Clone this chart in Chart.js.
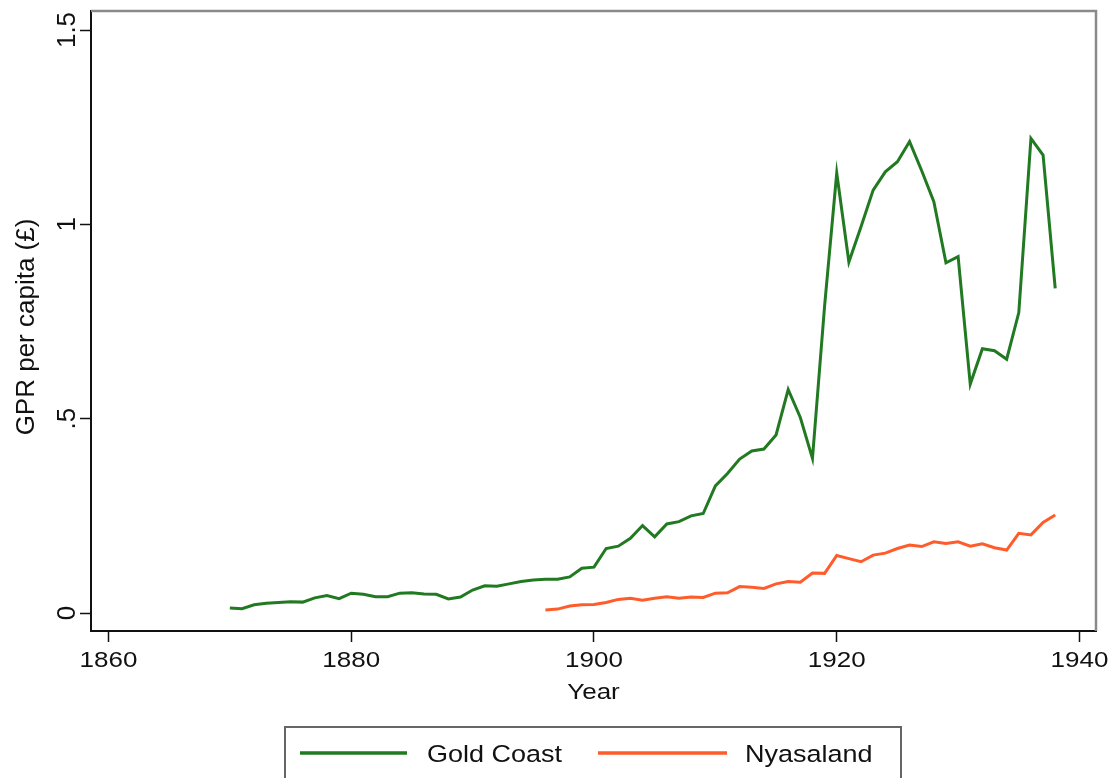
<!DOCTYPE html>
<html>
<head>
<meta charset="utf-8">
<title>GPR per capita</title>
<script src="https://cdn.jsdelivr.net/npm/chart.js@4.4.1/dist/chart.umd.min.js"></script>
<style>
  html, body { margin: 0; padding: 0; background: #fff; }
  #wrap { width: 1113px; height: 778px; position: relative; }
</style>
</head>
<body>
<div id="wrap"><canvas id="gprChart"></canvas></div>
<script>
// Datos
const goldYears = [1870, 1871, 1872, 1873, 1874, 1875, 1876, 1877, 1878, 1879,
    1880, 1881, 1882, 1883, 1884, 1885, 1886, 1887, 1888, 1889,
    1890, 1891, 1892, 1893, 1894, 1895, 1896, 1897, 1898, 1899,
    1900, 1901, 1902, 1903, 1904, 1905, 1906, 1907, 1908, 1909,
    1910, 1911, 1912, 1913, 1914, 1915, 1916, 1917, 1918, 1919,
    1920, 1921, 1922, 1923, 1924, 1925, 1926, 1927, 1928, 1929,
    1930, 1931, 1932, 1933, 1934, 1935, 1936, 1937, 1938];
const goldValues = [0.013, 0.011, 0.021, 0.025, 0.027, 0.029, 0.028, 0.039, 0.045, 0.037,
    0.051, 0.048, 0.042, 0.042, 0.051, 0.052, 0.049, 0.048, 0.036, 0.041,
    0.059, 0.070, 0.069, 0.075, 0.081, 0.085, 0.087, 0.087, 0.093, 0.115,
    0.118, 0.166, 0.172, 0.192, 0.225, 0.196, 0.229, 0.235, 0.250, 0.256,
    0.327, 0.359, 0.396, 0.417, 0.422, 0.458, 0.575, 0.503, 0.398, 0.790,
    1.132, 0.903, 0.994, 1.088, 1.135, 1.161, 1.213, 1.138, 1.058, 0.901,
    0.917, 0.589, 0.680, 0.675, 0.653, 0.773, 1.221, 1.178, 0.835];

const nyasaYears = [1896, 1897, 1898, 1899,
    1900, 1901, 1902, 1903, 1904, 1905, 1906, 1907, 1908, 1909,
    1910, 1911, 1912, 1913, 1914, 1915, 1916, 1917, 1918, 1919,
    1920, 1921, 1922, 1923, 1924, 1925, 1926, 1927, 1928, 1929,
    1930, 1931, 1932, 1933, 1934, 1935, 1936, 1937, 1938];
const nyasaValues = [0.008, 0.010, 0.018, 0.021,
    0.022, 0.027, 0.035, 0.038, 0.033, 0.038, 0.042, 0.038, 0.041, 0.040,
    0.051, 0.052, 0.068, 0.066, 0.063, 0.075, 0.081, 0.079, 0.103, 0.102,
    0.148, 0.140, 0.132, 0.149, 0.154, 0.166, 0.175, 0.171, 0.183, 0.179,
    0.183, 0.172, 0.178, 0.168, 0.162, 0.205, 0.201, 0.233, 0.252];

const xTicks = [1860, 1880, 1900, 1920, 1940];
const yTicks = [0, 0.5, 1, 1.5];
const yTickLabels = ['0', '.5', '1', '1.5'];

const seriesNames = ['Gold Coast', 'Nyasaland'];
const seriesColors = ['#217a22', '#ff5c2b'];

const FONT = '"Liberation Sans", Arial, Helvetica, sans-serif';
const TEXT_COLOR = '#111';

function toPoints(years, values) {
    return years.map((y, i) => ({ x: y, y: values[i] }));
}

// Texto horizontal algo aplastado, como en el original
function drawFlatText(ctx, text, x, baseline, size, squash, align) {
    ctx.save();
    ctx.translate(x, baseline);
    ctx.scale(1, squash);
    ctx.font = size + 'px ' + FONT;
    ctx.textAlign = align || 'center';
    ctx.textBaseline = 'alphabetic';
    ctx.fillStyle = TEXT_COLOR;
    ctx.fillText(text, 0, 0);
    ctx.restore();
}

function drawVerticalText(ctx, text, x, y, size) {
    ctx.save();
    ctx.translate(x, y);
    ctx.rotate(-Math.PI / 2);
    ctx.font = size + 'px ' + FONT;
    ctx.textAlign = 'center';
    ctx.textBaseline = 'middle';
    ctx.fillStyle = TEXT_COLOR;
    ctx.fillText(text, 0, 0);
    ctx.restore();
}

const stataDecor = {
    id: 'stataDecor',
    afterDraw(chart) {
        const ctx = chart.ctx;
        const area = chart.chartArea;
        const xs = chart.scales.x;
        const ys = chart.scales.y;

        // marco superior y derecho
        ctx.save();
        ctx.strokeStyle = '#8a8a8a';
        ctx.lineWidth = 2.5;
        ctx.beginPath();
        ctx.moveTo(area.left, area.top);
        ctx.lineTo(area.right, area.top);
        ctx.lineTo(area.right, area.bottom);
        ctx.stroke();
        ctx.restore();

        // etiquetas del eje Y
        ys.ticks.forEach((t, i) => {
            drawVerticalText(ctx, yTickLabels[yTicks.indexOf(t.value)], 68, ys.getPixelForValue(t.value), 26);
        });
        drawVerticalText(ctx, 'GPR per capita (£)', 27, 327, 26);

        // etiquetas del eje X
        xs.ticks.forEach(t => {
            drawFlatText(ctx, String(t.value), xs.getPixelForValue(t.value), 667, 26, 0.83);
        });
        drawFlatText(ctx, 'Year', (area.left + area.right) / 2 + 0, 699, 26, 0.83);

        // leyenda
        ctx.save();
        ctx.strokeStyle = '#666';
        ctx.lineWidth = 2;
        ctx.strokeRect(285, 727, 616, 80);
        ctx.restore();

        const legendItems = [
            { x1: 300, x2: 407, tx: 427 },
            { x1: 598, x2: 727, tx: 745 }
        ];
        chart.data.datasets.forEach((ds, i) => {
            const it = legendItems[i];
            ctx.save();
            ctx.strokeStyle = ds.borderColor;
            ctx.lineWidth = 3.5;
            ctx.beginPath();
            ctx.moveTo(it.x1, 753);
            ctx.lineTo(it.x2, 753);
            ctx.stroke();
            ctx.restore();
            drawFlatText(ctx, ds.label, it.tx, 762, 27, 0.88, 'left');
        });
    }
};

document.addEventListener('DOMContentLoaded', function() {
    const canvas = document.getElementById('gprChart');

    new Chart(canvas.getContext('2d'), {
        type: 'line',
        data: {
            datasets: [{
                label: seriesNames[0],
                data: toPoints(goldYears, goldValues),
                borderColor: seriesColors[0],
                backgroundColor: seriesColors[0],
                borderWidth: 3,
                pointRadius: 0,
                tension: 0,
                fill: false
            }, {
                label: seriesNames[1],
                data: toPoints(nyasaYears, nyasaValues),
                borderColor: seriesColors[1],
                backgroundColor: seriesColors[1],
                borderWidth: 3,
                pointRadius: 0,
                tension: 0,
                fill: false
            }]
        },
        options: {
            responsive: true,
            maintainAspectRatio: false,
            animation: false,
            layout: {
                padding: { left: 80, right: 17, top: 11, bottom: 136 }
            },
            plugins: {
                legend: { display: false },
                tooltip: { enabled: false },
                title: { display: false }
            },
            scales: {
                x: {
                    type: 'linear',
                    min: 1858.56,
                    max: 1941.36,
                    afterBuildTicks: function(scale) {
                        scale.ticks = xTicks.map(v => ({ value: v }));
                    },
                    afterFit: function(scale) {
                        scale.height = 11;
                    },
                    ticks: { display: false },
                    grid: {
                        display: true,
                        drawOnChartArea: false,
                        drawTicks: true,
                        tickLength: 11,
                        tickWidth: 1.5,
                        tickColor: '#111'
                    },
                    border: { display: true, color: '#111', width: 2 }
                },
                y: {
                    type: 'linear',
                    min: -0.0463,
                    max: 1.5489,
                    afterBuildTicks: function(scale) {
                        scale.ticks = yTicks.map(v => ({ value: v }));
                    },
                    afterFit: function(scale) {
                        scale.width = 11;
                    },
                    ticks: { display: false },
                    grid: {
                        display: true,
                        drawOnChartArea: false,
                        drawTicks: true,
                        tickLength: 11,
                        tickWidth: 1.5,
                        tickColor: '#111'
                    },
                    border: { display: true, color: '#111', width: 2 }
                }
            }
        },
        plugins: [stataDecor]
    });
});
</script>
</body>
</html>
